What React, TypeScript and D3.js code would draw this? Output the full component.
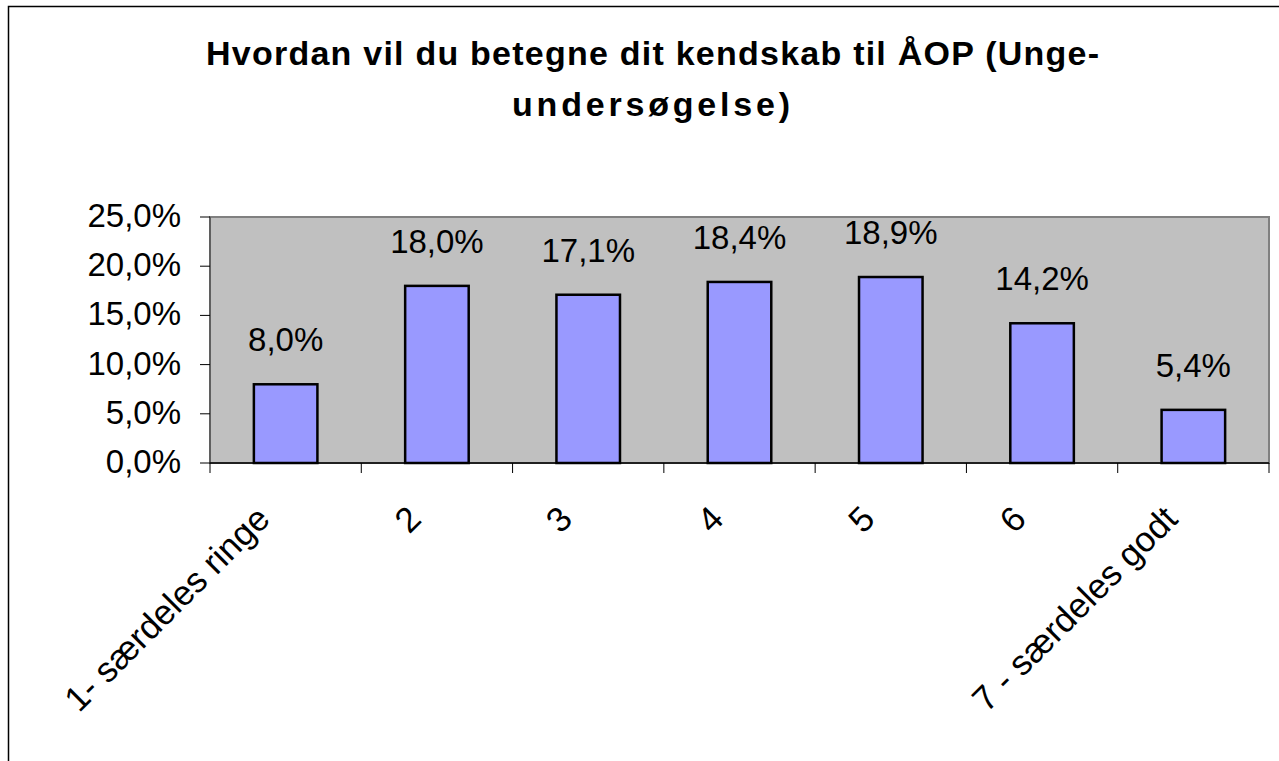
import React from "react";
import * as d3 from "d3";

const categories = ["1- særdeles ringe", "2", "3", "4", "5", "6", "7 - særdeles godt"];
const values = [8.0, 18.0, 17.1, 18.4, 18.9, 14.2, 5.4];
const yTicks = [0, 5, 10, 15, 20, 25];
const titleLines = ["Hvordan vil du betegne dit kendskab til ÅOP (Unge-", "undersøgelse)"];

const W = 1279;
const H = 761;
const plot = { left: 210, right: 1269, top: 217, bottom: 463 };
const font = "'Liberation Sans', Arial, Helvetica, sans-serif";
const fmt = (v: number) => v.toFixed(1).replace(".", ",") + "%";

export default function App() {
  const x = d3.scaleBand<string>().domain(categories).range([plot.left, plot.right]).padding(0);
  const y = d3.scaleLinear().domain([0, 25]).range([plot.bottom, plot.top]);
  const bw = x.bandwidth() * 0.42;
  const boundaries = d3.range(categories.length + 1).map((i) => plot.left + i * x.step());

  return (
    <svg
      width={W}
      height={H}
      style={{ position: "absolute", left: 0, top: 0, background: "#fff" }}
      fontFamily={font}
    >
      <rect x={8.5} y={6.5} width={1400} height={900} fill="#fff" stroke="#000" strokeWidth={1.5} />
      <text x={206} y={65} fontSize={34} fontWeight="bold" textLength={893} lengthAdjust="spacing">
        {titleLines[0]}
      </text>
      <text x={512} y={116} fontSize={34} fontWeight="bold" textLength={278} lengthAdjust="spacing">
        {titleLines[1]}
      </text>

      <rect
        x={plot.left}
        y={plot.top}
        width={plot.right - plot.left}
        height={plot.bottom - plot.top}
        fill="#C0C0C0"
        stroke="#808080"
        strokeWidth={2}
      />
      <line x1={plot.left} x2={plot.left} y1={plot.top} y2={plot.bottom} stroke="#555" strokeWidth={1.5} />
      {yTicks.map((t) => (
        <g key={t}>
          <line x1={plot.left - 10} x2={plot.left} y1={y(t)} y2={y(t)} stroke="#000" strokeWidth={1} />
          <text x={181} y={y(t) + 10} fontSize={33} textAnchor="end" fill="#000">
            {fmt(t)}
          </text>
        </g>
      ))}

      {categories.map((c, i) => {
        const cx = (x(c) as number) + x.bandwidth() / 2;
        const ax = cx - 14;
        const ay = plot.bottom + 58;
        return (
          <g key={c}>
            <rect
              x={cx - bw / 2}
              y={y(values[i])}
              width={bw}
              height={plot.bottom - y(values[i])}
              fill="#9999FF"
              stroke="#000"
              strokeWidth={2.5}
            />
            <text x={cx} y={y(values[i]) - 33} fontSize={33} textAnchor="middle" fill="#000">
              {fmt(values[i])}
            </text>
            <text
              x={ax}
              y={ay}
              fontSize={35}
              textAnchor="end"
              transform={`rotate(-45 ${ax} ${ay})`}
              fill="#000"
            >
              {c}
            </text>
          </g>
        );
      })}

      <line x1={plot.left} x2={plot.right} y1={plot.bottom} y2={plot.bottom} stroke="#000" strokeWidth={1.5} />
      {boundaries.map((b, i) => (
        <line key={i} x1={b} x2={b} y1={plot.bottom} y2={plot.bottom + 10} stroke="#000" strokeWidth={1} />
      ))}
    </svg>
  );
}
